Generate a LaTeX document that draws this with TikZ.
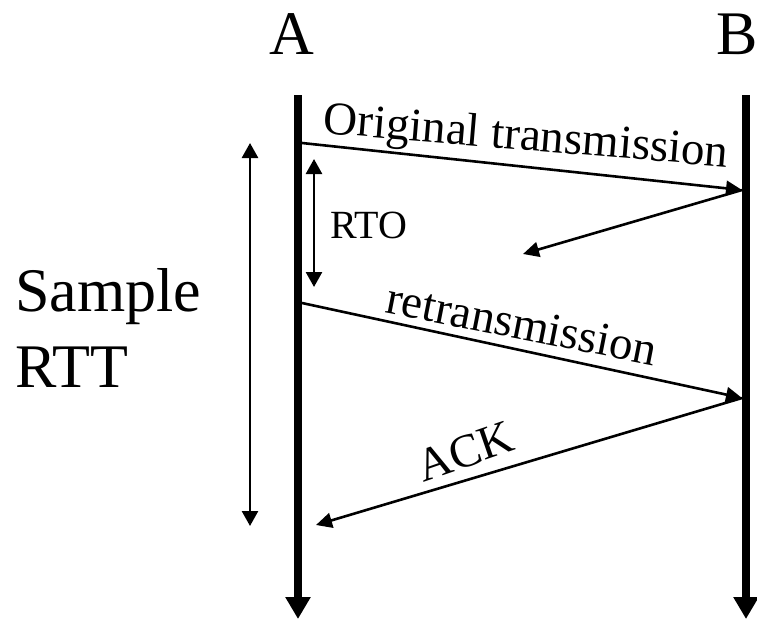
\documentclass[tikz,border=0pt]{standalone}
\usepackage{fontspec}
\setmainfont{Liberation Serif}
\usetikzlibrary{arrows.meta}
\begin{document}
\begin{tikzpicture}[x=1pt,y=-1pt,
  lifeline/.style={line width=8pt,-{Triangle[length=22pt,width=24pt]}},
  msg/.style={line width=2.6pt,-{Triangle[length=16pt,width=15pt]}},
  span/.style={line width=2.6pt,{Triangle[length=15pt,width=16pt]}-{Triangle[length=15pt,width=16pt]}},
  hostlbl/.style={font=\fontsize{62}{76}\selectfont,anchor=base,inner sep=0pt},
  msglbl/.style={font=\fontsize{47}{56}\selectfont,anchor=base,inner sep=0pt}]
\useasboundingbox (0,0) rectangle (757,621);

% hosts and their time lines
\node[hostlbl] (hA) at (292,54) {A};
\node[hostlbl] (hB) at (737,54) {B};
\coordinate (At) at (298,95);
\coordinate (Ab) at (298,619);
\coordinate (Bt) at (746,95);
\coordinate (Bb) at (746,619);
\draw[lifeline] (At) -- (Ab);
\draw[lifeline] (Bt) -- (Bb);

% segment events
\coordinate (s1) at (302,143);
\coordinate (r1) at (742,190);
\coordinate (lost) at (523,254);
\coordinate (s2) at (302,303);
\coordinate (r2) at (742,398);
\coordinate (ack) at (316,525);

\draw[msg] (s1) -- (r1);
\draw[msg] (r1) -- (lost);
\draw[msg] (s2) -- (r2);
\draw[msg] (r2) -- (ack);

\node[msglbl,rotate=-4.8] (lorig) at (525,150) {Original transmission};
\node[msglbl,rotate=-11.2] (lre) at (519,339) {retransmission};
\node[msglbl,rotate=19] (lack) at (470,466) {ACK};

% timers
\coordinate (rtoT) at (314,159);
\coordinate (rtoB) at (314,287);
\draw[span] (rtoT) -- (rtoB);
\node[font=\fontsize{40}{48}\selectfont,anchor=base west,inner sep=0pt] (lrto) at (330,238) {RTO};

\coordinate (rttT) at (250,143);
\coordinate (rttB) at (250,526);
\draw[span] (rttT) -- (rttB);
\node[font=\fontsize{62}{76}\selectfont,anchor=base west,align=left,inner sep=0pt] (lrtt) at (15,387) {Sample\\RTT};
\end{tikzpicture}
\end{document}
